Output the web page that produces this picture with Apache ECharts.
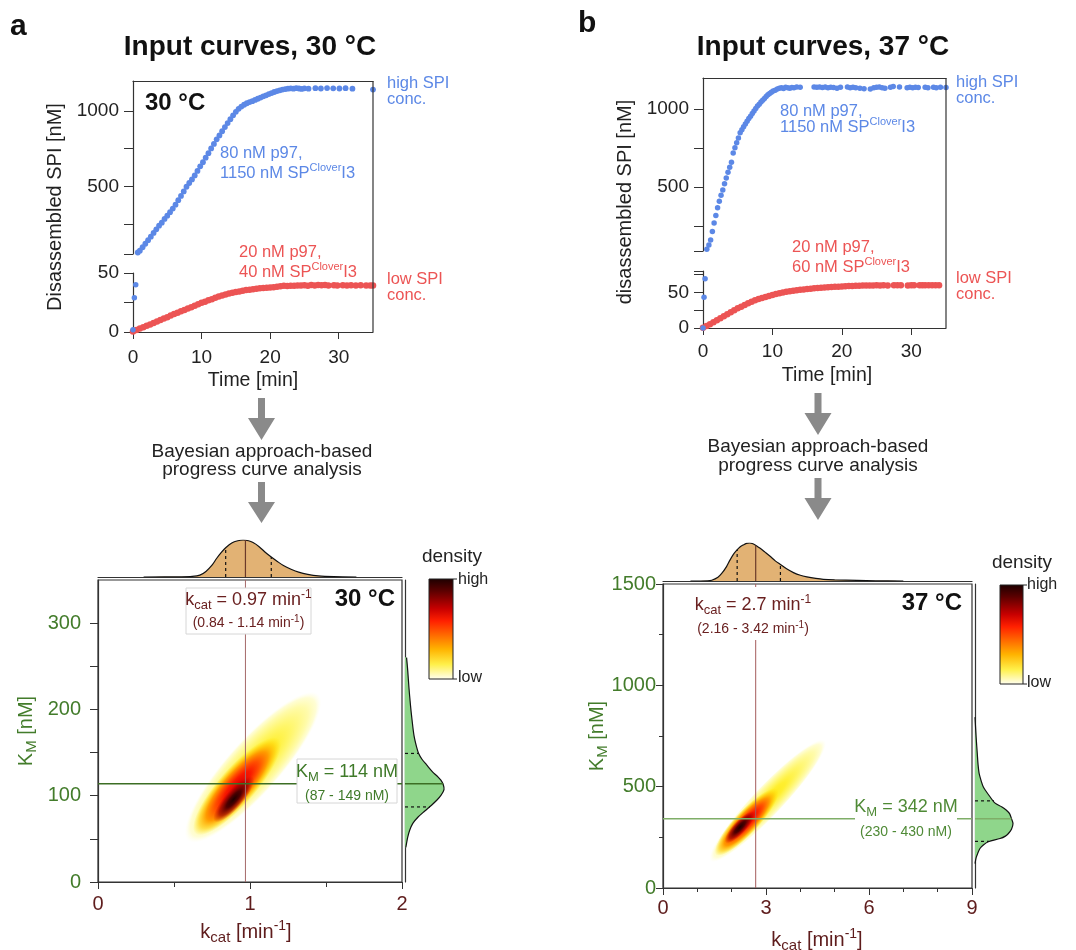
<!DOCTYPE html>
<html><head><meta charset="utf-8">
<script src="https://cdn.jsdelivr.net/npm/echarts@6/dist/echarts.min.js"></script>
<style>html,body{margin:0;padding:0;background:#fff}#c{width:1076px;height:950px}</style>
</head><body><div id="c"></div>
<script>
// ---------------- data ----------------
// panel a, 30 °C : [time min, disassembled SPI nM]
const highA = [[0,2],[0.2,29],[0.4,40],[0.7,60],[1.0,72],[1.4,95],[1.8,118],[2.2,142],[2.6,165],[3.0,190],[3.4,214],[3.8,238],[4.2,258],[4.6,283],[5.0,305],[5.4,328],[5.8,352],[6.2,378],[6.6,408],[7.0,436],[7.4,466],[7.8,497],[8.2,522],[8.6,546],[9.0,572],[9.4,602],[9.8,633],[10.2,660],[10.6,690],[11.0,720],[11.4,752],[11.8,782],[12.2,812],[12.6,838],[13.0,866],[13.4,894],[13.8,920],[14.2,946],[14.6,972],[15.0,995],[15.4,1015],[15.8,1030],[16.2,1042],[16.6,1052],[17.0,1060],[17.4,1066],[17.8,1074],[18.2,1082],[18.6,1090],[19.0,1098],[19.4,1105],[19.8,1113],[20.2,1120],[20.6,1127],[21.0,1133],[21.4,1138],[21.8,1143],[22.2,1146],[22.6,1149],[23.0,1151],[23.4,1149],[23.8,1152],[24.2,1150],[24.6,1147],[25.0,1151],[25.6,1149],[26.6,1152],[27.4,1150],[28.3,1153],[29.2,1151],[30.1,1150],[31.0,1152],[32.0,1149],[35.0,1143]];
const lowA = [[0,0.5],[0.5,1.6],[1,2.9],[1.5,4.1],[2,5.2],[2.5,6.4],[3,7.6],[3.5,8.9],[4,10.1],[4.5,11.4],[5,12.6],[5.5,13.9],[6,15.2],[6.5,16.4],[7,17.6],[7.5,18.7],[8,19.9],[8.5,21.0],[9,22.3],[9.5,23.5],[10,24.8],[10.5,25.7],[11,26.9],[11.5,27.8],[12,29.0],[12.5,30.0],[13,31.0],[13.5,31.7],[14,32.7],[14.5,33.2],[15,34.0],[15.5,34.4],[16,35.0],[16.5,35.6],[17,35.9],[17.5,36.3],[18,36.7],[18.5,37.0],[19,37.3],[19.5,37.5],[20,37.8],[20.5,38.0],[21,38.4],[21.5,38.8],[22,39.2],[22.5,39.0],[23,39.3],[23.5,39.1],[24,39.5],[24.5,39.4],[25,39.6],[25.5,39.3],[26,39.8],[26.5,39.5],[27,39.9],[27.5,39.6],[28,39.8],[28.5,39.4],[29.3,39.7],[29.8,39.5],[30.6,39.6],[31.2,39.5],[31.8,39.7],[32.5,39.4],[33.2,39.6],[34.0,39.5],[34.6,39.4],[35,39.5]];
// panel b, 37 °C
const highB = [[0,0],[0.15,43],[0.3,69],[0.55,101],[0.85,128],[1.1,160],[1.35,215],[1.6,270],[1.85,318],[2.1,368],[2.35,410],[2.6,448],[2.85,482],[3.1,522],[3.35,558],[3.6,595],[3.85,628],[4.1,660],[4.35,718],[4.6,752],[4.85,785],[5.1,815],[5.35,848],[5.6,868],[5.85,888],[6.1,905],[6.35,922],[6.6,940],[6.85,955],[7.1,972],[7.35,988],[7.6,1005],[7.85,1020],[8.1,1032],[8.35,1046],[8.6,1058],[8.85,1068],[9.1,1082],[9.35,1092],[9.6,1100],[9.85,1108],[10.1,1116],[10.4,1122],[10.7,1130],[11.0,1134],[11.3,1138],[11.6,1133],[11.9,1140],[12.2,1137],[12.5,1135],[12.8,1139],[13.1,1137],[13.5,1142],[14.0,1141],[16.0,1143],[16.4,1140],[16.8,1142],[17.2,1139],[17.6,1143],[18.0,1137],[18.4,1141],[18.8,1139],[19.3,1134],[19.8,1140],[20.8,1142],[21.2,1137],[21.6,1141],[22.0,1138],[22.6,1135],[23.2,1131],[24.1,1130],[24.6,1137],[25.0,1141],[25.4,1143],[25.8,1138],[26.2,1135],[27.0,1140],[27.4,1145],[28.3,1142],[29.4,1137],[29.8,1140],[30.2,1137],[30.6,1141],[31.0,1139],[32.0,1141],[32.4,1138],[33.2,1140],[33.6,1137],[34.2,1141],[35.0,1139]];
const lowB = [[0,0.5],[0.5,2.8],[1,5.4],[1.5,8],[2,10.8],[2.5,13.6],[3,16.4],[3.5,19.2],[4,22],[4.5,24.8],[5,27.6],[5.5,30],[6,32.4],[6.5,34.6],[7,36.8],[7.5,38.8],[8,40.6],[8.5,42.2],[9,43.6],[9.5,45],[10,46.4],[10.5,47.6],[11,48.8],[11.5,49.8],[12,50.8],[12.5,51.6],[13,52.4],[13.5,53],[14,53.7],[14.5,54.2],[15,54.8],[15.5,55.2],[16,55.7],[16.5,56],[17,56.4],[17.5,56.7],[18,57.1],[18.5,57.4],[19,57.8],[19.5,58],[20,58.4],[20.5,58.6],[21,58.9],[21.5,59],[22,59.3],[22.5,59.4],[23,59.6],[23.5,59.5],[24,59.8],[24.5,59.7],[25,59.9],[25.5,59.8],[26,60],[26.6,59.8],[27.5,60],[28,59.9],[28.5,60.1],[29.5,59.8],[30,60],[30.4,59.9],[31.2,60.1],[31.6,60],[32,60.1],[32.5,59.9],[33,60.1],[33.5,60],[34,60.1]];

// marginal posterior densities (relative): [kcat, density] and [KM, density]
const kcatMargA = [[0.3,0],[0.55,0.004],[0.62,0.015],[0.67,0.05],[0.71,0.15],[0.75,0.32],[0.78,0.5],[0.81,0.66],[0.84,0.79],[0.88,0.92],[0.92,0.98],[0.955,1.0],[0.99,0.98],[1.02,0.93],[1.06,0.82],[1.1,0.67],[1.14,0.54],[1.18,0.42],[1.22,0.31],[1.27,0.21],[1.32,0.13],[1.38,0.07],[1.45,0.03],[1.55,0.01],[1.7,0]];
const kmMargA = [[40,0.02],[45,0.04],[52,0.07],[60,0.12],[68,0.2],[75,0.33],[82,0.5],[89,0.68],[95,0.82],[101,0.93],[107,1.0],[113,0.98],[118,0.92],[122,0.84],[128,0.7],[136,0.55],[142,0.44],[149,0.35],[156,0.3],[170,0.23],[188,0.18],[205,0.14],[226,0.1],[245,0.07],[260,0.04]];
const kcatMargB = [[0.8,0],[1.3,0.005],[1.42,0.02],[1.6,0.1],[1.71,0.2],[1.85,0.38],[1.95,0.55],[2.05,0.7],[2.15,0.81],[2.25,0.9],[2.34,0.95],[2.43,0.99],[2.52,1.0],[2.62,0.98],[2.72,0.93],[2.83,0.86],[2.97,0.76],[3.12,0.65],[3.27,0.53],[3.41,0.44],[3.6,0.32],[3.8,0.22],[4.0,0.15],[4.19,0.11],[4.45,0.07],[4.67,0.045],[5.0,0.03],[5.65,0.015],[6.2,0.004],[7,0]];
const kmMargB = [[120,0],[150,0.03],[170,0.07],[195,0.13],[212,0.22],[228,0.35],[244,0.66],[256,0.8],[269,0.88],[290,0.96],[318,1.0],[342,0.96],[367,0.91],[385,0.82],[400,0.71],[420,0.52],[449,0.4],[475,0.3],[498,0.22],[530,0.16],[564,0.11],[610,0.08],[663,0.06],[744,0.03],[843,0]];

// median and 95% interval: [median, low, high], and curve heights at those points
const kcatStatA = [0.97, 0.84, 1.14], kcatStatHA = [1.0, 0.79, 0.54];
const kmStatA = [114, 87, 149], kmStatHA = [0.98, 0.64, 0.34];
const kcatStatB = [2.7, 2.16, 3.42], kcatStatHB = [0.93, 0.82, 0.44];
const kmStatB = [342, 230, 430], kmStatHB = [0.96, 0.37, 0.5];

// joint density regions: [centre kcat, centre KM, major-axis end kcat, end KM, minor/major ratio, layer]
const densA = [[1.02,133,1.45,218,0.27,0],[0.915,111,1.19,166,0.29,1],[0.893,96,1.02,122,0.31,2]];
const densB = [[3.05,430,4.72,728,0.18,0],[2.44,326,3.34,488,0.26,1],[2.24,300,2.66,376,0.31,2]];

// tick values
const timeTicks = [0, 10, 20, 30];
const upTicksA = [50, 250, 500, 750, 1000], upLabelsA = [500, 1000];
const loTicksA = [0, 25, 50], loLabelsA = [0, 50];
const upTicksB = [90, 250, 500, 750, 1000], upLabelsB = [500, 1000];
const loTicksB = [0, 25, 50, 75, 80], loLabelsB = [0, 50];
const kmTicksA = [0, 50, 100, 150, 200, 250, 300], kmLabelsA = [0, 100, 200, 300];

// ---------------- styling ----------------
const FF = '"Liberation Sans", Arial, Helvetica, sans-serif';
const BLUE = '#5c88e6', RED = '#ec5454', GREEN = '#437c2b', MAROON = '#5e1c1c', AX = '#333';
const ORANGE_FILL = '#e2b274', GREEN_FILL = '#8fd68b';
const STOPS = [
  [{offset:0,color:'#ffe818'},{offset:0.3,color:'#ffef30'},{offset:0.55,color:'#fff66a'},{offset:0.8,color:'#fffbab'},{offset:0.92,color:'rgba(255,253,205,0.85)'},{offset:1,color:'rgba(255,255,235,0)'}],
  [{offset:0,color:'#d80000'},{offset:0.3,color:'#f81800'},{offset:0.5,color:'#ff5000'},{offset:0.7,color:'#ff9a00'},{offset:0.86,color:'rgba(255,200,0,0.6)'},{offset:1,color:'rgba(255,230,0,0)'}],
  [{offset:0,color:'#1e0000'},{offset:0.35,color:'#500000'},{offset:0.7,color:'rgba(150,0,0,0.7)'},{offset:1,color:'rgba(200,0,0,0)'}]
];

const grids = [
  {left:133, top:81, width:240, height:173},   // 0 a upper
  {left:133, top:273, width:240, height:59},   // 1 a lower
  {left:703, top:78, width:243, height:173},   // 2 b upper
  {left:703, top:271, width:243, height:57},   // 3 b lower
  {left:98, top:580, width:304, height:302, show:true, borderColor:AX, borderWidth:1.2},  // 4 a main
  {left:98, top:540, width:304, height:37},    // 5 a top marginal
  {left:405, top:580, width:39, height:302},   // 6 a right marginal
  {left:663, top:584, width:309, height:304, show:true, borderColor:AX, borderWidth:1.2}, // 7 b main
  {left:663, top:543, width:309, height:38},   // 8 b top marginal
  {left:975, top:584, width:38, height:304}    // 9 b right marginal
];

const plain = v => String(v);
function ax(gridIndex, min, max, extra) {
  return Object.assign({type:'value', gridIndex, min, max, splitLine:{show:false},
    axisLine:{show:true, onZero:false, lineStyle:{color:AX, width:1.2}},
    axisTick:{show:false}, axisLabel:{show:false}}, extra || {});
}
const lblTop = {show:true, fontSize:19, fontFamily:FF, color:'#222', formatter:plain};
const timeAxis = (g, m) => ax(g, 0, 35, {axisTick:{show:true, length:7, customValues:timeTicks, lineStyle:{color:AX}},
  axisLabel:Object.assign({margin:m, customValues:timeTicks}, lblTop)});
const xAxes = [
  ax(0, 0, 35, {position:'top'}),
  timeAxis(1, 16),
  ax(2, 0, 35, {position:'top'}),
  timeAxis(3, 14),
  ax(4, 0, 2, {interval:1, axisTick:{show:true, length:7, lineStyle:{color:AX}}, minorTick:{show:true, splitNumber:2, length:5, lineStyle:{color:AX}},
      axisLabel:{show:true, fontSize:20, fontFamily:FF, color:MAROON, margin:12, formatter:plain}}),
  ax(5, 0, 2),
  ax(6, 0, 1, {show:false}),
  ax(7, 0, 9, {interval:3, axisTick:{show:true, length:7, lineStyle:{color:AX}}, minorTick:{show:true, splitNumber:3, length:4, lineStyle:{color:AX}},
      axisLabel:{show:true, fontSize:20, fontFamily:FF, color:MAROON, margin:10, formatter:plain}}),
  ax(8, 0, 9),
  ax(9, 0, 1, {show:false})
];
const yAxes = [
  ax(0, 50, 1200, {axisTick:{show:true, length:9, customValues:upTicksA, lineStyle:{color:AX}}, axisLabel:Object.assign({customValues:upLabelsA, margin:14}, lblTop)}),
  ax(1, 0, 50, {axisTick:{show:true, length:9, customValues:loTicksA, lineStyle:{color:AX}}, axisLabel:Object.assign({customValues:loLabelsA, margin:14}, lblTop)}),
  ax(2, 90, 1200, {axisTick:{show:true, length:9, customValues:upTicksB, lineStyle:{color:AX}}, axisLabel:Object.assign({customValues:upLabelsB, margin:14}, lblTop)}),
  ax(3, 0, 80, {axisTick:{show:true, length:9, customValues:loTicksB, lineStyle:{color:AX}}, axisLabel:Object.assign({customValues:loLabelsB, margin:14}, lblTop)}),
  ax(4, 0, 350, {axisTick:{show:true, length:8, customValues:kmTicksA, lineStyle:{color:AX}},
      axisLabel:{show:true, customValues:kmLabelsA, fontSize:20, fontFamily:FF, color:GREEN, margin:17, formatter:plain}}),
  ax(5, 0, 1, {show:false}),
  ax(6, 0, 350),
  ax(7, 0, 1500, {interval:500, axisTick:{show:true, length:7, lineStyle:{color:AX}}, minorTick:{show:true, splitNumber:2, length:4, lineStyle:{color:AX}},
      axisLabel:{show:true, fontSize:20, fontFamily:FF, color:GREEN, margin:7, formatter:plain}}),
  ax(8, 0, 1, {show:false}),
  ax(9, 0, 1500)
];

// ---------------- series helpers ----------------
function scatter(data, i, color, size) {
  return {type:'scatter', xAxisIndex:i, yAxisIndex:i, data, symbolSize:size || 5.5, itemStyle:{color, opacity:1}, clip:false, silent:true, z:3};
}
function seg(i, pts, color, width, type, z) {
  return {type:'line', xAxisIndex:i, yAxisIndex:i, data:pts, symbol:'none', lineStyle:{color, width, type:type||'solid'}, silent:true, z:z||4, clip:false};
}
function ellipses(data, i) {
  return {type:'custom', xAxisIndex:i, yAxisIndex:i, data, silent:true, z:2, clip:false,
    renderItem: function (params, api) {
      const c = api.coord([api.value(0), api.value(1)]);
      const e = api.coord([api.value(2), api.value(3)]);
      const dx = e[0] - c[0], dy = e[1] - c[1];
      const a = Math.sqrt(dx*dx + dy*dy);
      return {type:'circle', x:c[0], y:c[1], rotation:Math.atan2(-dy, dx), scaleX:a, scaleY:a*api.value(4),
        shape:{cx:0, cy:0, r:1},
        style:{fill:{type:'radial', x:0.5, y:0.5, r:0.5, colorStops:STOPS[api.value(5)]}}};
    }};
}
function margTop(data, i) {
  return {type:'line', xAxisIndex:i, yAxisIndex:i, data, symbol:'none', smooth:0.3, silent:true, z:2,
    lineStyle:{color:'#111', width:1.2}, areaStyle:{color:ORANGE_FILL, opacity:1}};
}
function margRight(pairs, i) {
  return {type:'custom', xAxisIndex:i, yAxisIndex:i, data:pairs.map(p => [p[1], p[0]]), silent:true, z:2, clip:false,
    renderItem: function (params, api) {
      if (params.dataIndex !== 0) return null;
      const pts = pairs.map(p => api.coord([p[1], p[0]]));
      const b0 = api.coord([0, pairs[0][0]]), b1 = api.coord([0, pairs[pairs.length-1][0]]);
      return {type:'group', children:[
        {type:'polygon', shape:{points:[b0].concat(pts, [b1]), smooth:0.3}, style:{fill:GREEN_FILL}},
        {type:'polyline', shape:{points:pts, smooth:0.3}, style:{stroke:'#111', lineWidth:1.2, fill:null}}
      ]};
    }};
}
function panelStats(mainI, topI, rightI, ks, kh, ms, mh, kmMax, kcMax, vColor, hColor, hWidth) {
  return [
    seg(mainI, [[ks[0], 0], [ks[0], kmMax]], vColor, 1),
    seg(mainI, [[0, ms[0]], [kcMax, ms[0]]], hColor, hWidth),
    seg(topI, [[ks[0], 0], [ks[0], kh[0]]], '#6b3a2a', 1.2),
    seg(topI, [[ks[1], 0], [ks[1], kh[1]]], '#111', 1.2, [3, 3]),
    seg(topI, [[ks[2], 0], [ks[2], kh[2]]], '#111', 1.2, [3, 3]),
    seg(rightI, [[0, ms[0]], [mh[0], ms[0]]], hColor, hWidth),
    seg(rightI, [[0, ms[1]], [mh[1], ms[1]]], '#111', 1.2, [3, 3]),
    seg(rightI, [[0, ms[2]], [mh[2], ms[2]]], '#111', 1.2, [3, 3])
  ];
}

const series = [
  scatter(highA.filter(p => p[1] > 50), 0, BLUE, 5.8),
  scatter(lowA, 1, RED, 6.5),
  scatter(highA.filter(p => p[1] <= 50), 1, BLUE),
  scatter(highB.filter(p => p[1] > 85), 2, BLUE),
  scatter(lowB, 3, RED, 6.5),
  scatter(highB.filter(p => p[1] <= 85), 3, BLUE),
  ellipses(densA, 4),
  margTop(kcatMargA, 5),
  margRight(kmMargA, 6),
  ellipses(densB, 7),
  margTop(kcatMargB, 8),
  margRight(kmMargB, 9)
].concat(
  panelStats(4, 5, 6, kcatStatA, kcatStatHA, kmStatA, kmStatHA, 350, 2, '#a56a6a', '#3c6e24', 1.5),
  panelStats(7, 8, 9, kcatStatB, kcatStatHB, kmStatB, kmStatHB, 1500, 9, '#a45c5c', '#7fae68', 1.5)
);

// ---------------- text & decorations ----------------
function rich(color, size) {
  return {
    sub:{fontSize:Math.round(size*0.74), fontFamily:FF, fill:color, padding:[Math.round(size*0.62),0,0,0]},
    sup:{fontSize:Math.round(size*0.68), fontFamily:FF, fill:color, padding:[0,0,Math.round(size*0.6),0]}
  };
}
function T(x, y, text, o) {
  o = o || {};
  const size = o.size || 19, color = o.color || '#222', align = o.align || 'left';
  return {type:'text', x, y, z:100, rotation:o.rot || 0, silent:true,
    style:{text, fontSize:size, fontFamily:FF, fontWeight:o.bold ? 'bold' : 'normal', fill:color,
      align, verticalAlign:'middle', textAlign:align, textVerticalAlign:'middle', rich:rich(color, size)}};
}
function box(x, y, w, h, stroke) {
  return {type:'rect', z:90, silent:true, shape:{x, y, width:w, height:h},
    style:{fill:'#fff', stroke:stroke || null, lineWidth:1}};
}
function arrow(cx, y0, y1, y2) {
  return {type:'polygon', z:90, silent:true, shape:{points:[[cx-3.5,y0],[cx+3.5,y0],[cx+3.5,y1],[cx+13.5,y1],[cx,y2],[cx-13.5,y1],[cx-3.5,y1]]},
    style:{fill:'#8a8a8a'}};
}
function vline(x, y0, y1) {
  return {type:'line', z:90, silent:true, shape:{x1:x, y1:y0, x2:x, y2:y1}, style:{stroke:AX, lineWidth:1.2}};
}
function colorbar(x, y, w, h) {
  return [
    {type:'rect', z:90, silent:true, shape:{x, y, width:w, height:h},
      style:{stroke:'#222', lineWidth:1, fill:{type:'linear', x:0, y:0, x2:0, y2:1, colorStops:[
        {offset:0,color:'#1c0000'},{offset:0.12,color:'#5a0000'},{offset:0.3,color:'#c80000'},{offset:0.42,color:'#ff2000'},
        {offset:0.56,color:'#ff6a00'},{offset:0.7,color:'#ffb300'},{offset:0.85,color:'#fff04a'},{offset:1,color:'#fffff4'}]}}},
    {type:'line', z:90, silent:true, shape:{x1:x+w, y1:y, x2:x+w+4, y2:y}, style:{stroke:'#222', lineWidth:1}},
    {type:'line', z:90, silent:true, shape:{x1:x+w, y1:y+h, x2:x+w+4, y2:y+h}, style:{stroke:'#222', lineWidth:1}}
  ];
}

const KC = '#6a2020', KMC = '#3f7a29';
const graphic = [
  // panel a top
  T(10, 27, 'a', {size:30, bold:true, color:'#111'}),
  T(250, 47, 'Input curves, 30 °C', {size:28, bold:true, color:'#111', align:'center'}),
  T(145, 103, '30 °C', {size:24, bold:true, color:'#111'}),
  T(220, 153, '80 nM p97,', {size:16.5, color:BLUE}),
  T(220, 173, '1150 nM SP{sup|Clover}I3', {size:16.5, color:BLUE}),
  T(239, 252, '20 nM p97,', {size:16.5, color:RED}),
  T(239, 272, '40 nM SP{sup|Clover}I3', {size:16.5, color:RED}),
  T(387, 83, 'high SPI', {size:16.5, color:BLUE}),
  T(387, 99, 'conc.', {size:16.5, color:BLUE}),
  T(387, 279, 'low SPI', {size:16.5, color:RED}),
  T(387, 295, 'conc.', {size:16.5, color:RED}),
  T(55, 207, 'Disassembled SPI [nM]', {size:20, align:'center', rot:Math.PI/2}),
  T(253, 381, 'Time [min]', {size:19.5, align:'center'}),
  vline(373, 81, 332),
  arrow(261.5, 398, 418, 440),
  T(262, 452, 'Bayesian approach-based', {size:19, align:'center'}),
  T(262, 470, 'progress curve analysis', {size:19, align:'center'}),
  arrow(261.5, 482, 502, 523),
  // panel b top
  T(578, 24, 'b', {size:30, bold:true, color:'#111'}),
  T(823, 47, 'Input curves, 37 °C', {size:28, bold:true, color:'#111', align:'center'}),
  T(780, 111, '80 nM p97,', {size:16.5, color:BLUE}),
  T(780, 127, '1150 nM SP{sup|Clover}I3', {size:16.5, color:BLUE}),
  T(792, 247, '20 nM p97,', {size:16.5, color:RED}),
  T(792, 267, '60 nM SP{sup|Clover}I3', {size:16.5, color:RED}),
  T(956, 82, 'high SPI', {size:16.5, color:BLUE}),
  T(956, 98, 'conc.', {size:16.5, color:BLUE}),
  T(956, 278, 'low SPI', {size:16.5, color:RED}),
  T(956, 294, 'conc.', {size:16.5, color:RED}),
  T(625, 202, 'disassembled SPI [nM]', {size:20, align:'center', rot:Math.PI/2}),
  T(827, 376, 'Time [min]', {size:19.5, align:'center'}),
  vline(946, 78, 328),
  arrow(818, 393, 413, 435),
  T(818, 447, 'Bayesian approach-based', {size:19, align:'center'}),
  T(818, 466, 'progress curve analysis', {size:19, align:'center'}),
  arrow(818, 478, 498, 520),
  // panel a bottom
  box(186, 588, 125, 46, '#d6d6d6'),
  T(248.5, 600, 'k{sub|cat} = 0.97 min{sup|-1}', {size:18, color:KC, align:'center'}),
  T(248.5, 623, '(0.84 - 1.14 min{sup|-1})', {size:14, color:KC, align:'center'}),
  box(297, 759, 100, 44, '#d6d6d6'),
  T(347, 772, 'K{sub|M} = 114 nM', {size:18, color:KMC, align:'center'}),
  T(347, 796, '(87 - 149 nM)', {size:14, color:KMC, align:'center'}),
  T(395, 599, '30 °C', {size:24, bold:true, color:'#111', align:'right'}),
  T(26, 731, 'K{sub|M} [nM]', {size:20, color:GREEN, align:'center', rot:Math.PI/2}),
  T(246, 932, 'k{sub|cat} [min{sup|-1}]', {size:20, color:MAROON, align:'center'}),
  T(452, 557, 'density', {size:19, color:'#222', align:'center'}),
  T(458, 580, 'high', {size:16, color:'#222'}),
  T(458, 678, 'low', {size:16, color:'#222'}),
  // panel b bottom
  box(694, 587, 120, 53),
  T(753, 605, 'k{sub|cat} = 2.7 min{sup|-1}', {size:18, color:KC, align:'center'}),
  T(753, 629, '(2.16 - 3.42 min{sup|-1})', {size:14, color:KC, align:'center'}),
  box(855, 794, 102, 50),
  T(906, 807, 'K{sub|M} = 342 nM', {size:18, color:'#4f8a36', align:'center'}),
  T(906, 832, '(230 - 430 nM)', {size:14, color:'#4f8a36', align:'center'}),
  T(962, 603, '37 °C', {size:24, bold:true, color:'#111', align:'right'}),
  T(597, 736, 'K{sub|M} [nM]', {size:20, color:GREEN, align:'center', rot:Math.PI/2}),
  T(817, 940, 'k{sub|cat} [min{sup|-1}]', {size:20, color:MAROON, align:'center'}),
  T(1022, 563, 'density', {size:19, color:'#222', align:'center'}),
  T(1027, 585, 'high', {size:16, color:'#222'}),
  T(1027, 683, 'low', {size:16, color:'#222'})
].concat(colorbar(429, 579, 24, 100), colorbar(1000, 585, 23, 99));

const chart = echarts.init(document.getElementById('c'), null, {renderer:'canvas'});
chart.setOption({
  animation:false,
  backgroundColor:'#fff',
  textStyle:{fontFamily:FF},
  grid:grids, xAxis:xAxes, yAxis:yAxes, series, graphic
});
</script></body></html>
